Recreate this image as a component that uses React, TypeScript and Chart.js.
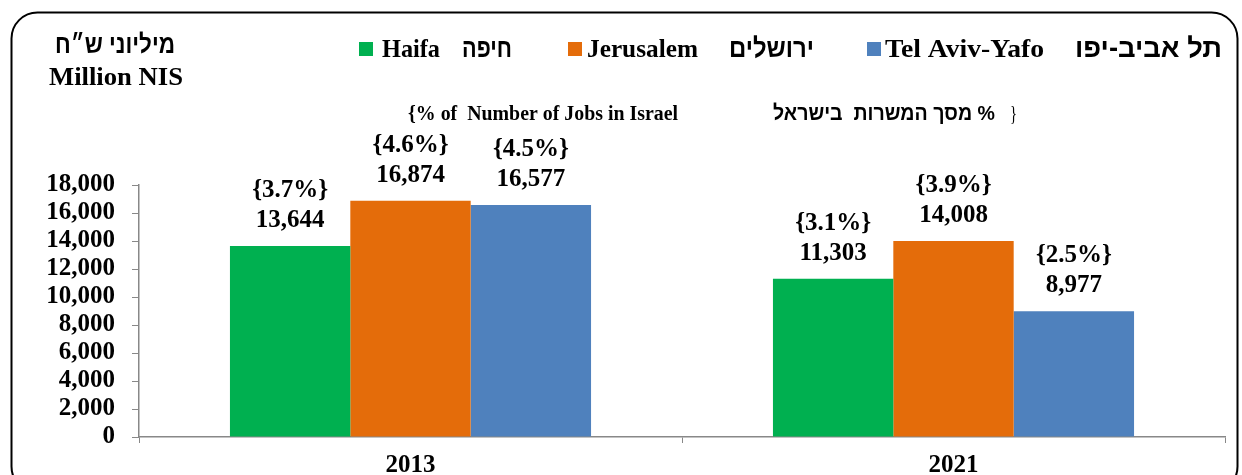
import React, { useEffect, useRef } from 'react';
import { Chart, registerables } from 'chart.js';

Chart.register(...registerables);

// ---- data ----
const years = ['2013', '2021'];
const haifaValues = [13644, 11303];
const jerusalemValues = [16874, 14008];
const telAvivValues = [16577, 8977];
const haifaPct = [3.7, 3.1];
const jerusalemPct = [4.6, 3.9];
const telAvivPct = [4.5, 2.5];
const yTicks = [0, 2000, 4000, 6000, 8000, 10000, 12000, 14000, 16000, 18000];
const seriesEn = ['Haifa', 'Jerusalem', 'Tel Aviv-Yafo'];
const seriesHe = ['חיפה', 'ירושלים', 'תל אביב-יפו'];
const unitHe = 'מיליוני ש״ח';
const unitEn = 'Million NIS';
const subtitleEn = '{% of  Number of Jobs in Israel';
const subtitleHe = '% מסך המשרות  בישראל';

const colors = ['#00B050', '#E46C0A', '#4F81BD'];
const pctSeries = [haifaPct, jerusalemPct, telAvivPct];

const SERIF = '"Liberation Serif", "Times New Roman", serif';
const SANS = '"Liberation Sans", Arial, sans-serif';

function fitText(ctx: CanvasRenderingContext2D, text: string, left: number, baseline: number, width: number, font: string, rtl = false) {
  ctx.save();
  ctx.font = font;
  ctx.direction = rtl ? 'rtl' : 'ltr';
  ctx.textAlign = 'left';
  ctx.textBaseline = 'alphabetic';
  ctx.fillStyle = '#000';
  const w = ctx.measureText(text).width;
  ctx.translate(left, baseline);
  ctx.scale(width / w, 1);
  ctx.fillText(text, 0, 0);
  ctx.restore();
}

const decorPlugin = {
  id: 'decor',
  afterDatasetsDraw(chart: any) {
    const ctx: CanvasRenderingContext2D = chart.ctx;
    ctx.save();
    ctx.font = `bold 25px ${SERIF}`;
    ctx.fillStyle = '#000';
    ctx.textAlign = 'center';
    ctx.textBaseline = 'alphabetic';
    chart.data.datasets.forEach((ds: any, i: number) => {
      const meta = chart.getDatasetMeta(i);
      meta.data.forEach((bar: any, j: number) => {
        const pct = pctSeries[i][j];
        ctx.fillText(`{${pct.toFixed(1)}%}`, bar.x, bar.y - 49);
        ctx.fillText(Number(ds.data[j]).toLocaleString('en-US'), bar.x, bar.y - 19);
      });
    });
    ctx.restore();
  },
  afterDraw(chart: any) {
    const ctx: CanvasRenderingContext2D = chart.ctx;
    // rounded frame
    ctx.save();
    ctx.strokeStyle = '#000';
    ctx.lineWidth = 2;
    ctx.beginPath();
    (ctx as any).roundRect(11.5, 12.5, 1226, 480, 26);
    ctx.stroke();
    ctx.restore();

    // unit label
    fitText(ctx, unitHe, 55, 53, 120, `bold 26px ${SANS}`, true);
    fitText(ctx, unitEn, 49, 85, 134, `bold 25px ${SERIF}`);

    // legend
    const squares = [359, 568, 867];
    const enPos = [[382, 58], [587, 111], [885, 159]];
    const hePos = [[462, 50], [729, 85], [1075, 147]];
    for (let i = 0; i < 3; i++) {
      ctx.fillStyle = colors[i];
      ctx.fillRect(squares[i], 42, 14, 14);
      fitText(ctx, seriesEn[i], enPos[i][0], 57, enPos[i][1], `bold 25px ${SERIF}`);
      fitText(ctx, seriesHe[i], hePos[i][0], 57, hePos[i][1], `bold 27px ${SANS}`, true);
    }

    // subtitle
    fitText(ctx, subtitleEn, 408, 120, 270, `bold 20px ${SERIF}`);
    fitText(ctx, subtitleHe, 773, 120, 222, `bold 21px ${SANS}`, true);
    fitText(ctx, '}', 1010, 120, 7, `20px ${SERIF}`);
  },
};

export default function App() {
  const ref = useRef<HTMLCanvasElement>(null);
  useEffect(() => {
    if (!ref.current) return;
    const chart = new Chart(ref.current, {
      type: 'bar',
      data: {
        labels: years,
        datasets: [
          { label: seriesEn[0], data: haifaValues, backgroundColor: colors[0], borderWidth: 0 },
          { label: seriesEn[1], data: jerusalemValues, backgroundColor: colors[1], borderWidth: 0 },
          { label: seriesEn[2], data: telAvivValues, backgroundColor: colors[2], borderWidth: 0 },
        ],
      },
      options: {
        responsive: false,
        animation: false,
        categoryPercentage: 0.665,
        barPercentage: 1.0,
        layout: { padding: { top: 185, right: 17, left: 0, bottom: 0 } },
        plugins: { legend: { display: false }, tooltip: { enabled: false } },
        scales: {
          x: {
            grid: { drawOnChartArea: false, color: '#888', tickLength: 6, offset: true },
            border: { color: '#888', width: 1.5 },
            ticks: { color: '#000', font: { family: SERIF, size: 25, weight: 'bold' }, padding: 8 },
            afterFit: (s: any) => { s.height = 38; },
          },
          y: {
            min: 0,
            max: 18000,
            grid: { drawOnChartArea: false, color: '#888', tickLength: 7 },
            border: { color: '#888', width: 1.5 },
            ticks: {
              color: '#000',
              font: { family: SERIF, size: 25, weight: 'bold' },
              padding: 17,
              autoSkip: false,
              callback: (v: any) => Number(v).toLocaleString('en-US'),
            },
            afterBuildTicks: (s: any) => { s.ticks = yTicks.map((v) => ({ value: v })); },
            afterFit: (s: any) => { s.width = 139; },
          },
        },
      } as any,
      plugins: [decorPlugin],
    });
    return () => chart.destroy();
  }, []);
  return (
    <div style={{ position: 'fixed', left: 0, top: 0, width: 1242, height: 475, background: '#fff' }}>
      <canvas ref={ref} width={1242} height={475} style={{ display: 'block' }} />
    </div>
  );
}
